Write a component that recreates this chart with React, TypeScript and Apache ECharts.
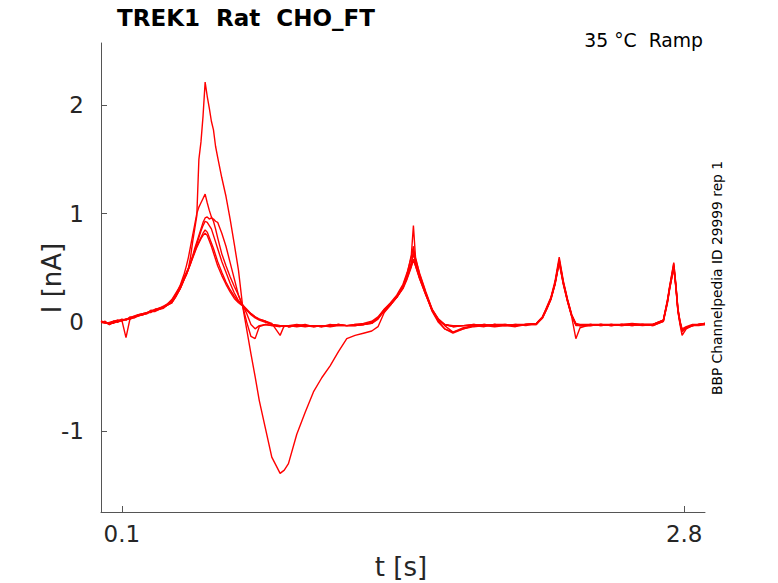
import React, { useEffect, useRef } from "react";
import * as echarts from "echarts";

// time grid (s)
const T = [
  0.00, 0.02, 0.04, 0.06, 0.08, 0.10, 0.12, 0.14, 0.16, 0.18, 0.20, 0.22, 0.24, 0.26, 0.28, 0.30, 0.32, 0.34, 0.36, 0.38, 0.40,
  0.41, 0.42, 0.43, 0.44, 0.45, 0.46, 0.47, 0.48, 0.49, 0.50, 0.51, 0.52, 0.53, 0.54, 0.55, 0.56,
  0.58, 0.60, 0.62, 0.64, 0.66, 0.68, 0.70, 0.72, 0.74, 0.76, 0.79, 0.82, 0.86, 0.88, 0.90, 0.94, 0.98, 1.02, 1.06, 1.10, 1.14, 1.18, 1.22, 1.26, 1.30,
  1.33, 1.36, 1.39, 1.42, 1.45, 1.47, 1.49, 1.50, 1.51, 1.53, 1.56, 1.59, 1.62, 1.65, 1.69, 1.74,
  1.79, 1.84, 1.89, 1.94, 1.99, 2.04, 2.09,
  2.12, 2.14, 2.16, 2.18, 2.20, 2.22, 2.24, 2.26, 2.28, 2.30,
  2.35, 2.40, 2.45, 2.50, 2.55, 2.60, 2.65, 2.70,
  2.72, 2.73, 2.75, 2.76, 2.77, 2.78, 2.79, 2.81, 2.84, 2.87, 2.90,
];

// current sweeps (nA)
const sweepA = [
  0.01, 0.00, -0.01, 0.01, 0.02, 0.02, 0.03, 0.04, 0.06, 0.07, 0.08, 0.09, 0.10, 0.12, 0.13, 0.15, 0.17, 0.21, 0.27, 0.33, 0.42,
  0.46, 0.50, 0.60, 0.74, 0.86, 0.98, 1.50, 1.66, 1.90, 2.21, 2.08, 1.97, 1.85, 1.77, 1.62, 1.52,
  1.33, 1.16, 0.95, 0.72, 0.48, 0.15, -0.07, -0.29, -0.50, -0.72, -0.98, -1.24, -1.39, -1.36, -1.30, -1.03, -0.83, -0.64, -0.51, -0.40, -0.27, -0.15, -0.12, -0.10, -0.08,
  -0.04, 0.09, 0.16, 0.23, 0.33, 0.44, 0.62, 0.89, 0.60, 0.44, 0.27, 0.11, 0.01, -0.06, -0.09, -0.06,
  -0.04, -0.03, -0.04, -0.03, -0.03, -0.02, -0.01,
  0.05, 0.13, 0.22, 0.36, 0.58, 0.37, 0.21, 0.07, -0.02, -0.03,
  -0.03, -0.02, -0.03, -0.02, -0.03, -0.02, -0.02, 0.02,
  0.21, 0.33, 0.54, 0.35, 0.12, 0.01, -0.07, -0.05, -0.03, -0.02, -0.01,
];
const sweepB = [
  0.00, -0.01, 0.00, 0.01, 0.01, 0.03, 0.02, 0.05, 0.05, 0.07, 0.08, 0.08, 0.11, 0.11, 0.13, 0.14, 0.17, 0.20, 0.26, 0.34, 0.45,
  0.52, 0.60, 0.70, 0.80, 0.90, 1.00, 1.06, 1.10, 1.14, 1.18, 1.10, 1.03, 0.97, 0.93, 0.86, 0.78,
  0.63, 0.52, 0.42, 0.33, 0.25, 0.15, 0.00, -0.13, -0.15, -0.04, -0.02, -0.03, -0.04, -0.03, -0.04, -0.03, -0.02, -0.04, -0.03, -0.03, -0.02, -0.03, -0.02, -0.02, 0.00,
  0.04, 0.12, 0.17, 0.24, 0.34, 0.44, 0.55, 0.63, 0.55, 0.42, 0.26, 0.10, 0.00, -0.06, -0.10, -0.06,
  -0.03, -0.04, -0.02, -0.03, -0.04, -0.02, -0.02,
  0.04, 0.12, 0.21, 0.35, 0.55, 0.35, 0.19, 0.05, -0.15, -0.05,
  -0.02, -0.03, -0.02, -0.03, -0.02, -0.02, -0.03, 0.01,
  0.19, 0.31, 0.52, 0.33, 0.10, -0.02, -0.12, -0.06, -0.03, -0.03, -0.02,
];
const sweepC = [
  0.01, 0.00, -0.02, 0.00, 0.02, 0.01, 0.03, 0.03, 0.05, 0.06, 0.08, 0.09, 0.09, 0.12, 0.12, 0.14, 0.16, 0.19, 0.24, 0.31, 0.40,
  0.44, 0.49, 0.55, 0.61, 0.68, 0.74, 0.80, 0.86, 0.92, 0.96, 0.97, 0.95, 0.96, 0.95, 0.93, 0.92,
  0.82, 0.70, 0.55, 0.40, 0.25, 0.16, 0.08, -0.02, -0.06, -0.03, -0.02, -0.03, -0.03, -0.04, -0.03, -0.02, -0.03, -0.03, -0.04, -0.02, -0.03, -0.03, -0.02, -0.01, 0.01,
  0.05, 0.12, 0.18, 0.25, 0.35, 0.46, 0.60, 0.70, 0.58, 0.45, 0.28, 0.12, 0.03, -0.02, -0.04, -0.03,
  -0.02, -0.03, -0.02, -0.02, -0.03, -0.02, -0.01,
  0.05, 0.14, 0.23, 0.38, 0.60, 0.38, 0.21, 0.07, -0.01, -0.02,
  -0.02, -0.02, -0.03, -0.02, -0.01, -0.02, -0.02, 0.02,
  0.20, 0.32, 0.55, 0.35, 0.13, 0.01, -0.06, -0.04, -0.02, -0.02, -0.01,
];
const sweepD = [
  0.00, 0.00, -0.01, -0.01, 0.01, 0.02, 0.02, 0.04, 0.04, 0.06, 0.07, 0.08, 0.10, 0.10, 0.12, 0.13, 0.16, 0.18, 0.24, 0.31, 0.40,
  0.44, 0.49, 0.54, 0.60, 0.66, 0.72, 0.78, 0.84, 0.89, 0.93, 0.92, 0.89, 0.86, 0.80, 0.74, 0.68,
  0.56, 0.46, 0.36, 0.27, 0.20, 0.16, 0.11, 0.07, 0.04, 0.02, 0.00, -0.02, -0.03, -0.03, -0.04, -0.03, -0.03, -0.04, -0.03, -0.03, -0.02, -0.03, -0.03, -0.02, -0.01,
  0.03, 0.11, 0.17, 0.23, 0.32, 0.42, 0.53, 0.66, 0.54, 0.41, 0.26, 0.12, 0.03, -0.02, -0.03, -0.03,
  -0.03, -0.02, -0.03, -0.03, -0.02, -0.02, -0.02,
  0.05, 0.13, 0.22, 0.36, 0.56, 0.36, 0.20, 0.06, -0.02, -0.03,
  -0.03, -0.02, -0.02, -0.03, -0.02, -0.02, -0.02, 0.01,
  0.19, 0.31, 0.50, 0.33, 0.11, 0.00, -0.08, -0.05, -0.03, -0.02, -0.02,
];
const sweepE = [
  0.00, 0.01, -0.02, 0.00, 0.01, 0.02, -0.14, 0.04, 0.05, 0.06, 0.07, 0.09, 0.10, 0.11, 0.12, 0.14, 0.16, 0.19, 0.25, 0.32, 0.41,
  0.45, 0.50, 0.55, 0.60, 0.65, 0.70, 0.74, 0.78, 0.82, 0.85, 0.83, 0.78, 0.73, 0.68, 0.62, 0.56,
  0.46, 0.37, 0.30, 0.24, 0.19, 0.16, 0.12, 0.08, 0.05, 0.03, 0.01, -0.01, -0.12, -0.03, -0.04, -0.03, -0.04, -0.03, -0.03, -0.04, -0.03, -0.03, -0.03, -0.02, -0.01,
  0.04, 0.10, 0.16, 0.23, 0.32, 0.41, 0.52, 0.58, 0.52, 0.40, 0.25, 0.11, 0.02, -0.03, -0.09, -0.05,
  -0.03, -0.02, -0.03, -0.02, -0.03, -0.02, -0.01,
  0.05, 0.13, 0.22, 0.36, 0.57, 0.36, 0.20, 0.06, -0.02, -0.03,
  -0.03, -0.02, -0.03, -0.02, -0.02, -0.03, -0.02, 0.02,
  0.20, 0.32, 0.52, 0.34, 0.12, 0.00, -0.08, -0.05, -0.03, -0.02, -0.01,
];
const sweepF = [
  0.01, 0.00, -0.01, 0.01, 0.00, 0.02, 0.03, 0.03, 0.05, 0.07, 0.07, 0.08, 0.11, 0.11, 0.13, 0.14, 0.16, 0.18, 0.24, 0.31, 0.40,
  0.44, 0.49, 0.54, 0.59, 0.64, 0.69, 0.73, 0.77, 0.80, 0.82, 0.80, 0.75, 0.70, 0.64, 0.58, 0.52,
  0.43, 0.35, 0.28, 0.22, 0.18, 0.15, 0.11, 0.08, 0.05, 0.03, 0.01, -0.02, -0.03, -0.03, -0.03, -0.04, -0.03, -0.03, -0.04, -0.03, -0.02, -0.03, -0.03, -0.02, 0.00,
  0.04, 0.11, 0.17, 0.23, 0.31, 0.40, 0.51, 0.57, 0.52, 0.40, 0.25, 0.11, 0.02, -0.02, -0.04, -0.03,
  -0.02, -0.03, -0.02, -0.03, -0.02, -0.03, -0.01,
  0.04, 0.12, 0.21, 0.35, 0.55, 0.35, 0.19, 0.06, -0.03, -0.03,
  -0.02, -0.03, -0.02, -0.02, -0.03, -0.02, -0.03, 0.01,
  0.18, 0.30, 0.50, 0.32, 0.10, -0.01, -0.09, -0.05, -0.03, -0.02, -0.01,
];

const SWEEPS = [sweepA, sweepB, sweepC, sweepD, sweepE, sweepF];
const X_TICKS = [0.1, 2.8];
const Y_TICKS = [-1, 0, 1, 2];

const TITLE = "TREK1  Rat  CHO_FT";
const SUBTITLE = "35 °C  Ramp";
const SIDE_NOTE = "BBP Channelpedia ID 29999 rep 1";
const X_NAME = "t [s]";
const Y_NAME = "I [nA]";

const FONT = "DejaVu Sans";
const TEXT = "#262626";
const AXIS = "#555555";

export default function App() {
  const ref = useRef<HTMLDivElement>(null);
  useEffect(() => {
    document.body.style.margin = "0";
    if (!ref.current) return;
    const chart = echarts.init(ref.current, undefined, { renderer: "svg" });
    chart.setOption({
      animation: false,
      backgroundColor: "#ffffff",
      grid: { left: 101, right: 73, top: 43, bottom: 71, containLabel: false },
      xAxis: {
        type: "value",
        min: 0,
        max: 2.9,
        axisLine: { show: true, onZero: false, lineStyle: { color: AXIS, width: 1 } },
        axisTick: { show: true, inside: true, length: 6, customValues: X_TICKS, lineStyle: { color: AXIS } },
        axisLabel: {
          customValues: X_TICKS,
          formatter: (v: number) => String(v),
          fontSize: 23,
          fontFamily: FONT,
          color: TEXT,
          margin: 10,
        },
        splitLine: { show: false },
      },
      yAxis: {
        type: "value",
        min: -1.745,
        max: 2.57,
        axisLine: { show: true, onZero: false, lineStyle: { color: AXIS, width: 1 } },
        axisTick: { show: true, inside: true, length: 6, customValues: Y_TICKS, lineStyle: { color: AXIS } },
        axisLabel: {
          customValues: Y_TICKS,
          formatter: (v: number) => String(v),
          fontSize: 23,
          fontFamily: FONT,
          color: TEXT,
          margin: 17,
        },
        splitLine: { show: false },
      },
      series: SWEEPS.map((v, k) => ({
        type: "line",
        name: "sweep" + (k + 1),
        data: T.map((t, i) => [t, v[i]]),
        showSymbol: false,
        symbol: "none",
        silent: true,
        lineStyle: { color: "#ff0000", width: 1.4 },
        itemStyle: { color: "#ff0000" },
      })),
      graphic: [
        {
          type: "text",
          x: 246,
          y: 18,
          style: { text: TITLE, fontFamily: FONT, fontWeight: "bold", fontSize: 23, fill: "#000", textAlign: "center", textVerticalAlign: "middle" },
        },
        {
          type: "text",
          x: 703,
          y: 40,
          style: { text: SUBTITLE, fontFamily: FONT, fontSize: 18.8, fill: "#000", textAlign: "right", textVerticalAlign: "middle" },
        },
        {
          type: "text",
          x: 717,
          y: 278,
          rotation: Math.PI / 2,
          style: { text: SIDE_NOTE, fontFamily: FONT, fontSize: 13.8, fill: "#000", textAlign: "center", textVerticalAlign: "middle" },
        },
        {
          type: "text",
          x: 401,
          y: 567,
          style: { text: X_NAME, fontFamily: FONT, fontSize: 26, fill: TEXT, textAlign: "center", textVerticalAlign: "middle" },
        },
        {
          type: "text",
          x: 52,
          y: 278,
          rotation: Math.PI / 2,
          style: { text: Y_NAME, fontFamily: FONT, fontSize: 26, fill: TEXT, textAlign: "center", textVerticalAlign: "middle" },
        },
      ],
    });
    return () => chart.dispose();
  }, []);
  return <div ref={ref} style={{ width: 778, height: 583 }} />;
}
